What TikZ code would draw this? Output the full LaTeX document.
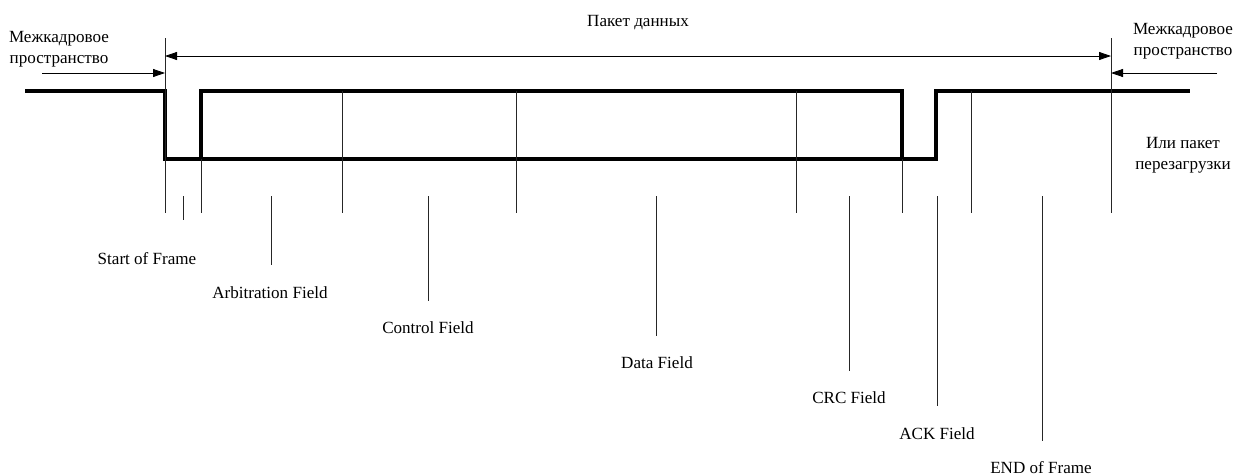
\documentclass[tikz,border=0pt]{standalone}
\usepackage{fontspec}
\setmainfont{Liberation Serif}
\usetikzlibrary{arrows.meta, positioning}

\begin{document}
\begin{tikzpicture}[
    x=0.75pt, y=-0.75pt,
    font=\fontsize{12.8}{15.4}\selectfont,
    >={Triangle[length=9pt, width=6pt]},
    % --- estilos ---
    signal/.style = {line width=2.5pt, line join=miter},
    tick/.style   = {line width=0.6pt, draw=black!85},
    dim/.style    = {line width=0.6pt},
    lbl/.style    = {anchor=base, inner sep=0pt, align=center}
]
\useasboundingbox (0,0) rectangle (1242,475);

% ===================== SEÑAL =====================
\draw[signal] (25,91) -- (165,91) -- (165,159) -- (936,159) -- (936,91) -- (1190,91);
\draw[signal] (201,159) -- (201,91) -- (902,91) -- (902,159);

% ===================== LIMITES DEL PAQUETE =====================
\coordinate (frameL) at (165,38);
\coordinate (frameR) at (1111,38);
\draw[tick] (frameL) -- (165,213);
\draw[tick] (frameR) -- (1111,213);

% separadores de campos
\foreach \x in {342,516,796,971}
    \draw[tick] (\x,91) -- (\x,213);
\foreach \x in {201,902}
    \draw[tick] (\x,159) -- (\x,213);

% ===================== FLECHAS =====================
\coordinate (pktL) at (165,56);
\coordinate (pktR) at (1111,56);
\draw[dim, <->] (pktL) -- (pktR);
\node[lbl] (pkt) at (638,26) {Пакет данных};

\coordinate (ifsL) at (42,73);
\coordinate (ifsR) at (1217,73);
\draw[dim, ->] (ifsL) -- (ifsL -| frameL);
\draw[dim, ->] (ifsR) -- (ifsR -| frameR);

% (base = linea inferior)
\node[lbl] (ifsLtxt) at (59,63) {Межкадровое\\пространство};
\node[lbl] (ifsRtxt) at (1183,55) {Межкадровое\\пространство};
\node[lbl] (ovl)     at (1183,169) {Или пакет\\перезагрузки};

% ===================== CAMPOS =====================
\foreach \x/\e/\name/\txt/\lx/\ly in {
    183/220/sof/Start of Frame/147/264,
    271/265/arb/Arbitration Field/270/298,
    428/301/ctl/Control Field/428/333,
    656/336/dat/Data Field/657/368,
    849/371/crc/CRC Field/849/403,
    937/406/ack/ACK Field/937/439,
    1042/441/eof/END of Frame/1041/473}{
    \coordinate (\name-top) at (\x,196);
    \coordinate (\name-end) at (\x,\e);
    \draw[tick] (\name-top) -- (\name-end);
    \node[lbl] (\name) at (\lx,\ly) {\txt};
}

\end{tikzpicture}
\end{document}
